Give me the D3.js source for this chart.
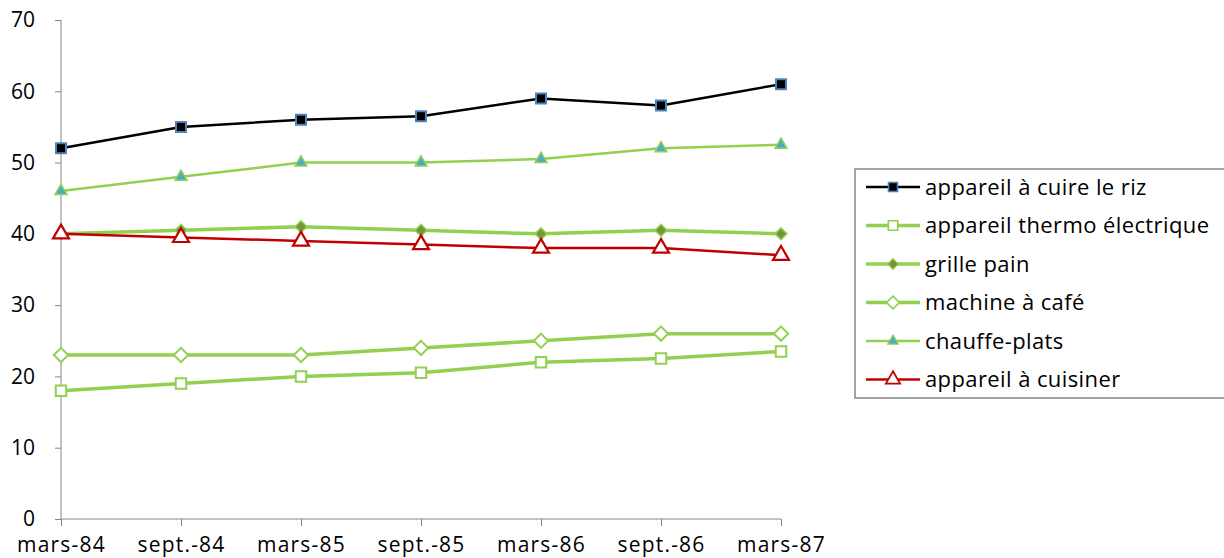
<!DOCTYPE html>
<html>
<head>
<meta charset="utf-8">
<script src="https://cdn.jsdelivr.net/npm/d3@7"></script>
<style>
  body { margin: 0; background: #fff; }
  svg { display: block; font-family: "Open Sans", Lato, sans-serif; }
  .axis path, .axis line { stroke: #868686; }
  .axis text { fill: #000; font-size: 21px; font-family: "Open Sans", Lato, sans-serif; }
  .axis.x text { letter-spacing: 1.2px; }
  .legend text { font-size: 22px; letter-spacing: 0.4px; }
</style>
</head>
<body>
<svg id="chart" width="1224" height="558"></svg>
<script>
const categories = ["mars-84", "sept.-84", "mars-85", "sept.-85", "mars-86", "sept.-86", "mars-87"];
const yTicks = [0, 10, 20, 30, 40, 50, 60, 70];

const riz = [52, 55, 56, 56.5, 59, 58, 61];
const thermo = [18, 19, 20, 20.5, 22, 22.5, 23.5];
const grillePain = [40, 40.5, 41, 40.5, 40, 40.5, 40];
const machineCafe = [23, 23, 23, 24, 25, 26, 26];
const chauffePlats = [46, 48, 50, 50, 50.5, 52, 52.5];
const cuisiner = [40, 39.5, 39, 38.5, 38, 38, 37];

const GREEN = "#92d050";

const series = [
  { name: "appareil à cuire le riz", values: riz, color: "#000", width: 2.5,
    marker: "square", size: 100, fill: "#000", stroke: "#4f81bd", mstroke: 2 },
  { name: "appareil thermo électrique", values: thermo, color: GREEN, width: 3.5,
    marker: "square", size: 110, fill: "#fff", stroke: GREEN, mstroke: 2 },
  { name: "grille pain", values: grillePain, color: GREEN, width: 3.5,
    marker: "diamond", size: 90, fill: "#77933c", stroke: GREEN, mstroke: 1.5 },
  { name: "machine à café", values: machineCafe, color: GREEN, width: 3.5,
    marker: "diamond", size: 130, fill: "#fff", stroke: GREEN, mstroke: 2 },
  { name: "chauffe-plats", values: chauffePlats, color: GREEN, width: 2.5,
    marker: "triangle", size: 60, fill: "#4bacc6", stroke: GREEN, mstroke: 1.5 },
  { name: "appareil à cuisiner", values: cuisiner, color: "#c00000", width: 2.5,
    marker: "triangle", size: 110, fill: "#fff", stroke: "#c00000", mstroke: 2.2 },
];

const symbols = { square: d3.symbolSquare, diamond: d3.symbolDiamond2, triangle: d3.symbolTriangle };

const svg = d3.select("#chart");

const x = d3.scalePoint().domain(categories).range([61, 781]);
const y = d3.scaleLinear().domain([0, 70]).range([519, 20]);

/* Axes */
svg.append("g")
  .attr("class", "axis y")
  .attr("transform", "translate(61,0)")
  .call(d3.axisLeft(y).tickValues(yTicks).tickSize(6).tickPadding(20))
  .call((g) => g.select(".domain").attr("d", `M0,${y(0)}V${y(70)}`));

svg.append("g")
  .attr("class", "axis x")
  .attr("transform", `translate(0,${y(0)})`)
  .call(d3.axisBottom(x).tickSize(7).tickPadding(11))
  .call((g) => g.select(".domain").attr("d", `M${x.range()[0]},0H${x.range()[1]}`))
  .call((g) => g.selectAll("text").attr("dy", "0.71em"));

/* Lines + markers */
const line = d3.line().x((d, i) => x(categories[i])).y((d) => y(d));

series.forEach((s) => {
  svg.append("path")
    .attr("d", line(s.values))
    .attr("fill", "none")
    .attr("stroke", s.color)
    .attr("stroke-width", s.width)
    .attr("stroke-linejoin", "round");

  svg.append("g")
    .selectAll("path")
    .data(s.values)
    .join("path")
    .attr("transform", (d, i) => `translate(${x(categories[i])},${y(d)})`)
    .attr("d", d3.symbol(symbols[s.marker], s.size))
    .attr("fill", s.fill)
    .attr("stroke", s.stroke)
    .attr("stroke-width", s.mstroke);
});

/* Legend */
const legend = svg.append("g").attr("class", "legend").attr("transform", "translate(855,169)");
legend.append("rect")
  .attr("x", 0).attr("y", 0)
  .attr("width", 380).attr("height", 229)
  .attr("fill", "#fff")
  .attr("stroke", "#868686")
  .attr("stroke-width", 1.5);

const item = legend.selectAll("g.item")
  .data(series)
  .join("g")
  .attr("class", "item")
  .attr("transform", (d, i) => `translate(0,${18 + i * 38.5})`);

item.append("line")
  .attr("x1", 11).attr("x2", 65)
  .attr("stroke", (d) => d.color)
  .attr("stroke-width", (d) => d.width);

item.append("path")
  .attr("transform", "translate(38,0)")
  .attr("d", (d) => d3.symbol(symbols[d.marker], d.size * 0.8)())
  .attr("fill", (d) => d.fill)
  .attr("stroke", (d) => d.stroke)
  .attr("stroke-width", (d) => d.mstroke * 0.8);

item.append("text")
  .attr("x", 70)
  .attr("dy", "0.35em")
  .text((d) => d.name);
</script>
</body>
</html>
